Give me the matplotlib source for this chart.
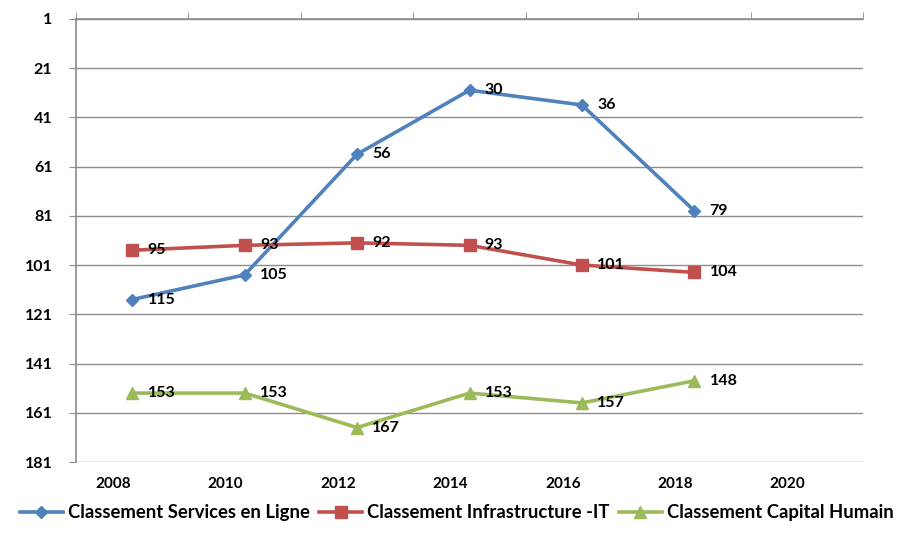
import matplotlib
matplotlib.use("Agg")
import matplotlib.pyplot as plt
import numpy as np

plt.rcParams['font.family'] = ['Lato', 'DejaVu Sans']

# données
years = ['2008', '2010', '2012', '2014', '2016', '2018', '2020']
services = [115, 105, 56, 30, 36, 79]
infra = [95, 93, 92, 93, 101, 104]
capital = [153, 153, 167, 153, 157, 148]
y_ticks = [1, 21, 41, 61, 81, 101, 121, 141, 161, 181]

series = [
    ('Classement Services en Ligne', services, '#4F81BD', 'D', 6.5),
    ('Classement Infrastructure -IT', infra, '#C0504D', 's', 8),
    ('Classement Capital Humain', capital, '#9BBB59', '^', 9),
]

fig = plt.figure(figsize=(9.05, 5.34), dpi=100)
ax = fig.add_axes([0.084, 0.1348, 0.8696, 0.830])

x = np.arange(len(services))
for name, vals, col, mk, ms in series:
    ax.plot(x, vals, color=col, lw=2.6, marker=mk, markersize=ms,
            markeredgecolor=col, label=name, zorder=3)
    for xi, v in zip(x, vals):
        ax.annotate(str(v), (xi, v), xytext=(11, 0), textcoords='offset points',
                    va='center', ha='left', fontsize=11.5, fontweight='bold',
                    color='black', zorder=4)

ax.set_xlim(-0.5, len(years) - 0.5)
ax.set_ylim(181, 1)
ax.set_yticks(y_ticks)
ax.set_yticklabels([str(t) for t in y_ticks], fontsize=11.5, fontweight='bold')
ax.yaxis.grid(True, color='#8c8c8c', lw=1)
ax.set_axisbelow(True)

ax.set_xticks(np.arange(len(years)) - 0.17)
ax.set_xticklabels(years, fontsize=11, fontweight='bold')
ax.set_xticks(np.arange(len(years) + 1) - 0.5, minor=True)
ax.tick_params(axis='x', which='major', bottom=True, top=False, length=0, pad=11)
ax.tick_params(axis='x', which='minor', bottom=False, top=True, length=5,
               direction='out', color='#8c8c8c')
ax.tick_params(axis='y', length=5, color='#8c8c8c', pad=12)

for s in ['right', 'bottom']:
    ax.spines[s].set_visible(False)
for s in ['left', 'top']:
    ax.spines[s].set_color('#8c8c8c')
    ax.spines[s].set_linewidth(1.2)

leg = fig.legend(loc='lower center', bbox_to_anchor=(0.505, -0.007), ncol=3,
                 frameon=False, handlelength=2.3, columnspacing=0.5,
                 handletextpad=0.3, prop={'size': 13.3, 'weight': 'bold'})

fig.savefig('out.png', dpi=100)
